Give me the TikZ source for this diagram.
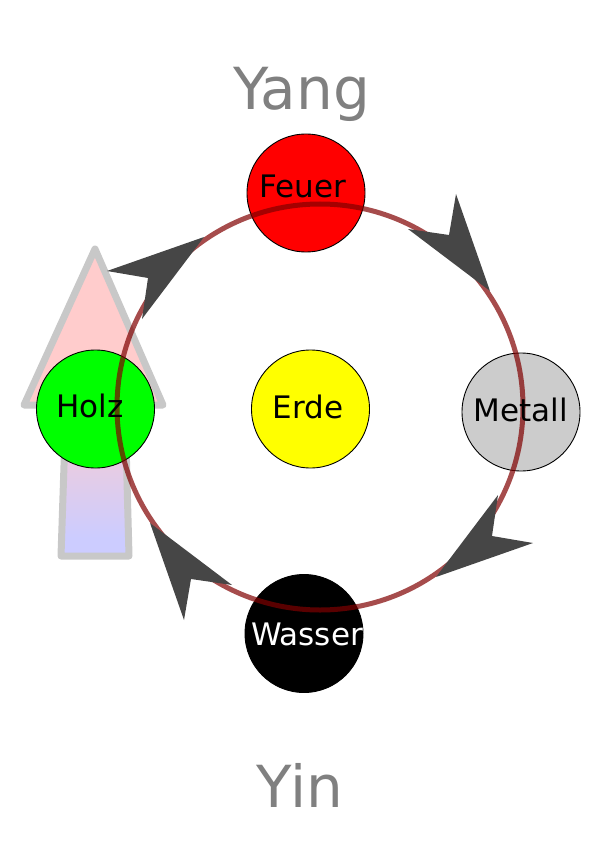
\documentclass[tikz,border=0pt]{standalone}
\usepackage{fontspec}
\setmainfont{DejaVu Sans}
\definecolor{yygray}{RGB}{128,128,128}
\definecolor{headgray}{RGB}{70,70,70}
\definecolor{ringred}{RGB}{128,0,0}
\definecolor{arrowgray}{RGB}{200,200,200}
\definecolor{pinkish}{RGB}{255,204,204}
\definecolor{bluish}{RGB}{204,204,255}
\definecolor{metallgray}{RGB}{204,204,204}
\definecolor{fire}{RGB}{255,0,0}
\definecolor{wood}{RGB}{0,255,0}
\definecolor{earth}{RGB}{255,255,0}
\pgfdeclareverticalshading{yyshade}{100bp}{color(0bp)=(bluish); color(28bp)=(bluish); color(50bp)=(pinkish); color(100bp)=(pinkish)}
\begin{document}
\begin{tikzpicture}[x=1pt,y=-1pt,
  elem/.style={circle, draw=black, line width=0.9pt, minimum size=118pt, inner sep=0pt},
  lbl/.style={anchor=base, font=\fontsize{31}{37}\selectfont, inner sep=0pt},
  titletext/.style={anchor=base, font=\fontsize{58}{70}\selectfont, text=yygray, inner sep=0pt},
  headshape/.style={fill=headgray, draw=none},
  ringstyle/.style={circle, draw=ringred, draw opacity=0.7, line width=5pt, minimum size=406pt, inner sep=0pt},
  bigarrow/.style={draw=arrowgray, line width=7pt, line join=round, shade, shading=yyshade}]
\useasboundingbox (0,0) rectangle (595,842);

% big up arrow (Yin -> Yang)
\path[bigarrow] (95,249) -- (163,405) -- (125,405) -- (129,556) -- (61,556) -- (66,405) -- (24,405) -- cycle;

% element circles
\node[elem, fill=fire] (feuer) at (306,193) {};
\node[elem, fill=wood] (holz) at (95.5,409) {};
\node[elem, fill=earth] (erde) at (310.5,409) {};
\node[elem, fill=metallgray] (metall) at (521,412) {};
\node[elem, fill=black] (wasser) at (304,633.5) {};

% cycle ring
\node[ringstyle] (ring) at (320,407) {};

% arrowheads on the ring (clockwise)
\fill[headshape] (204,237) -- (107,271) -- (148,278) -- (142,319) -- cycle;
\fill[headshape] (490,291) -- (456,194) -- (449,235) -- (408,229) -- cycle;
\fill[headshape] (436,577) -- (533,543) -- (492,536) -- (498,495) -- cycle;
\fill[headshape] (150,523) -- (184,620) -- (191,579) -- (232,585) -- cycle;

% labels
\node[lbl] (feuerT) at (303,198) {Feuer};
\node[lbl] (holzT) at (90,417) {Holz};
\node[lbl] (erdeT) at (308,418) {Erde};
\node[lbl] (metallT) at (521,421) {Metall};
\node[lbl, text=white] (wasserT) at (307,645) {Wasser};

\node[titletext] (yang) at (301.5,110) {Yang};
\node[titletext] (yin) at (300,807) {Yin};
\end{tikzpicture}
\end{document}
